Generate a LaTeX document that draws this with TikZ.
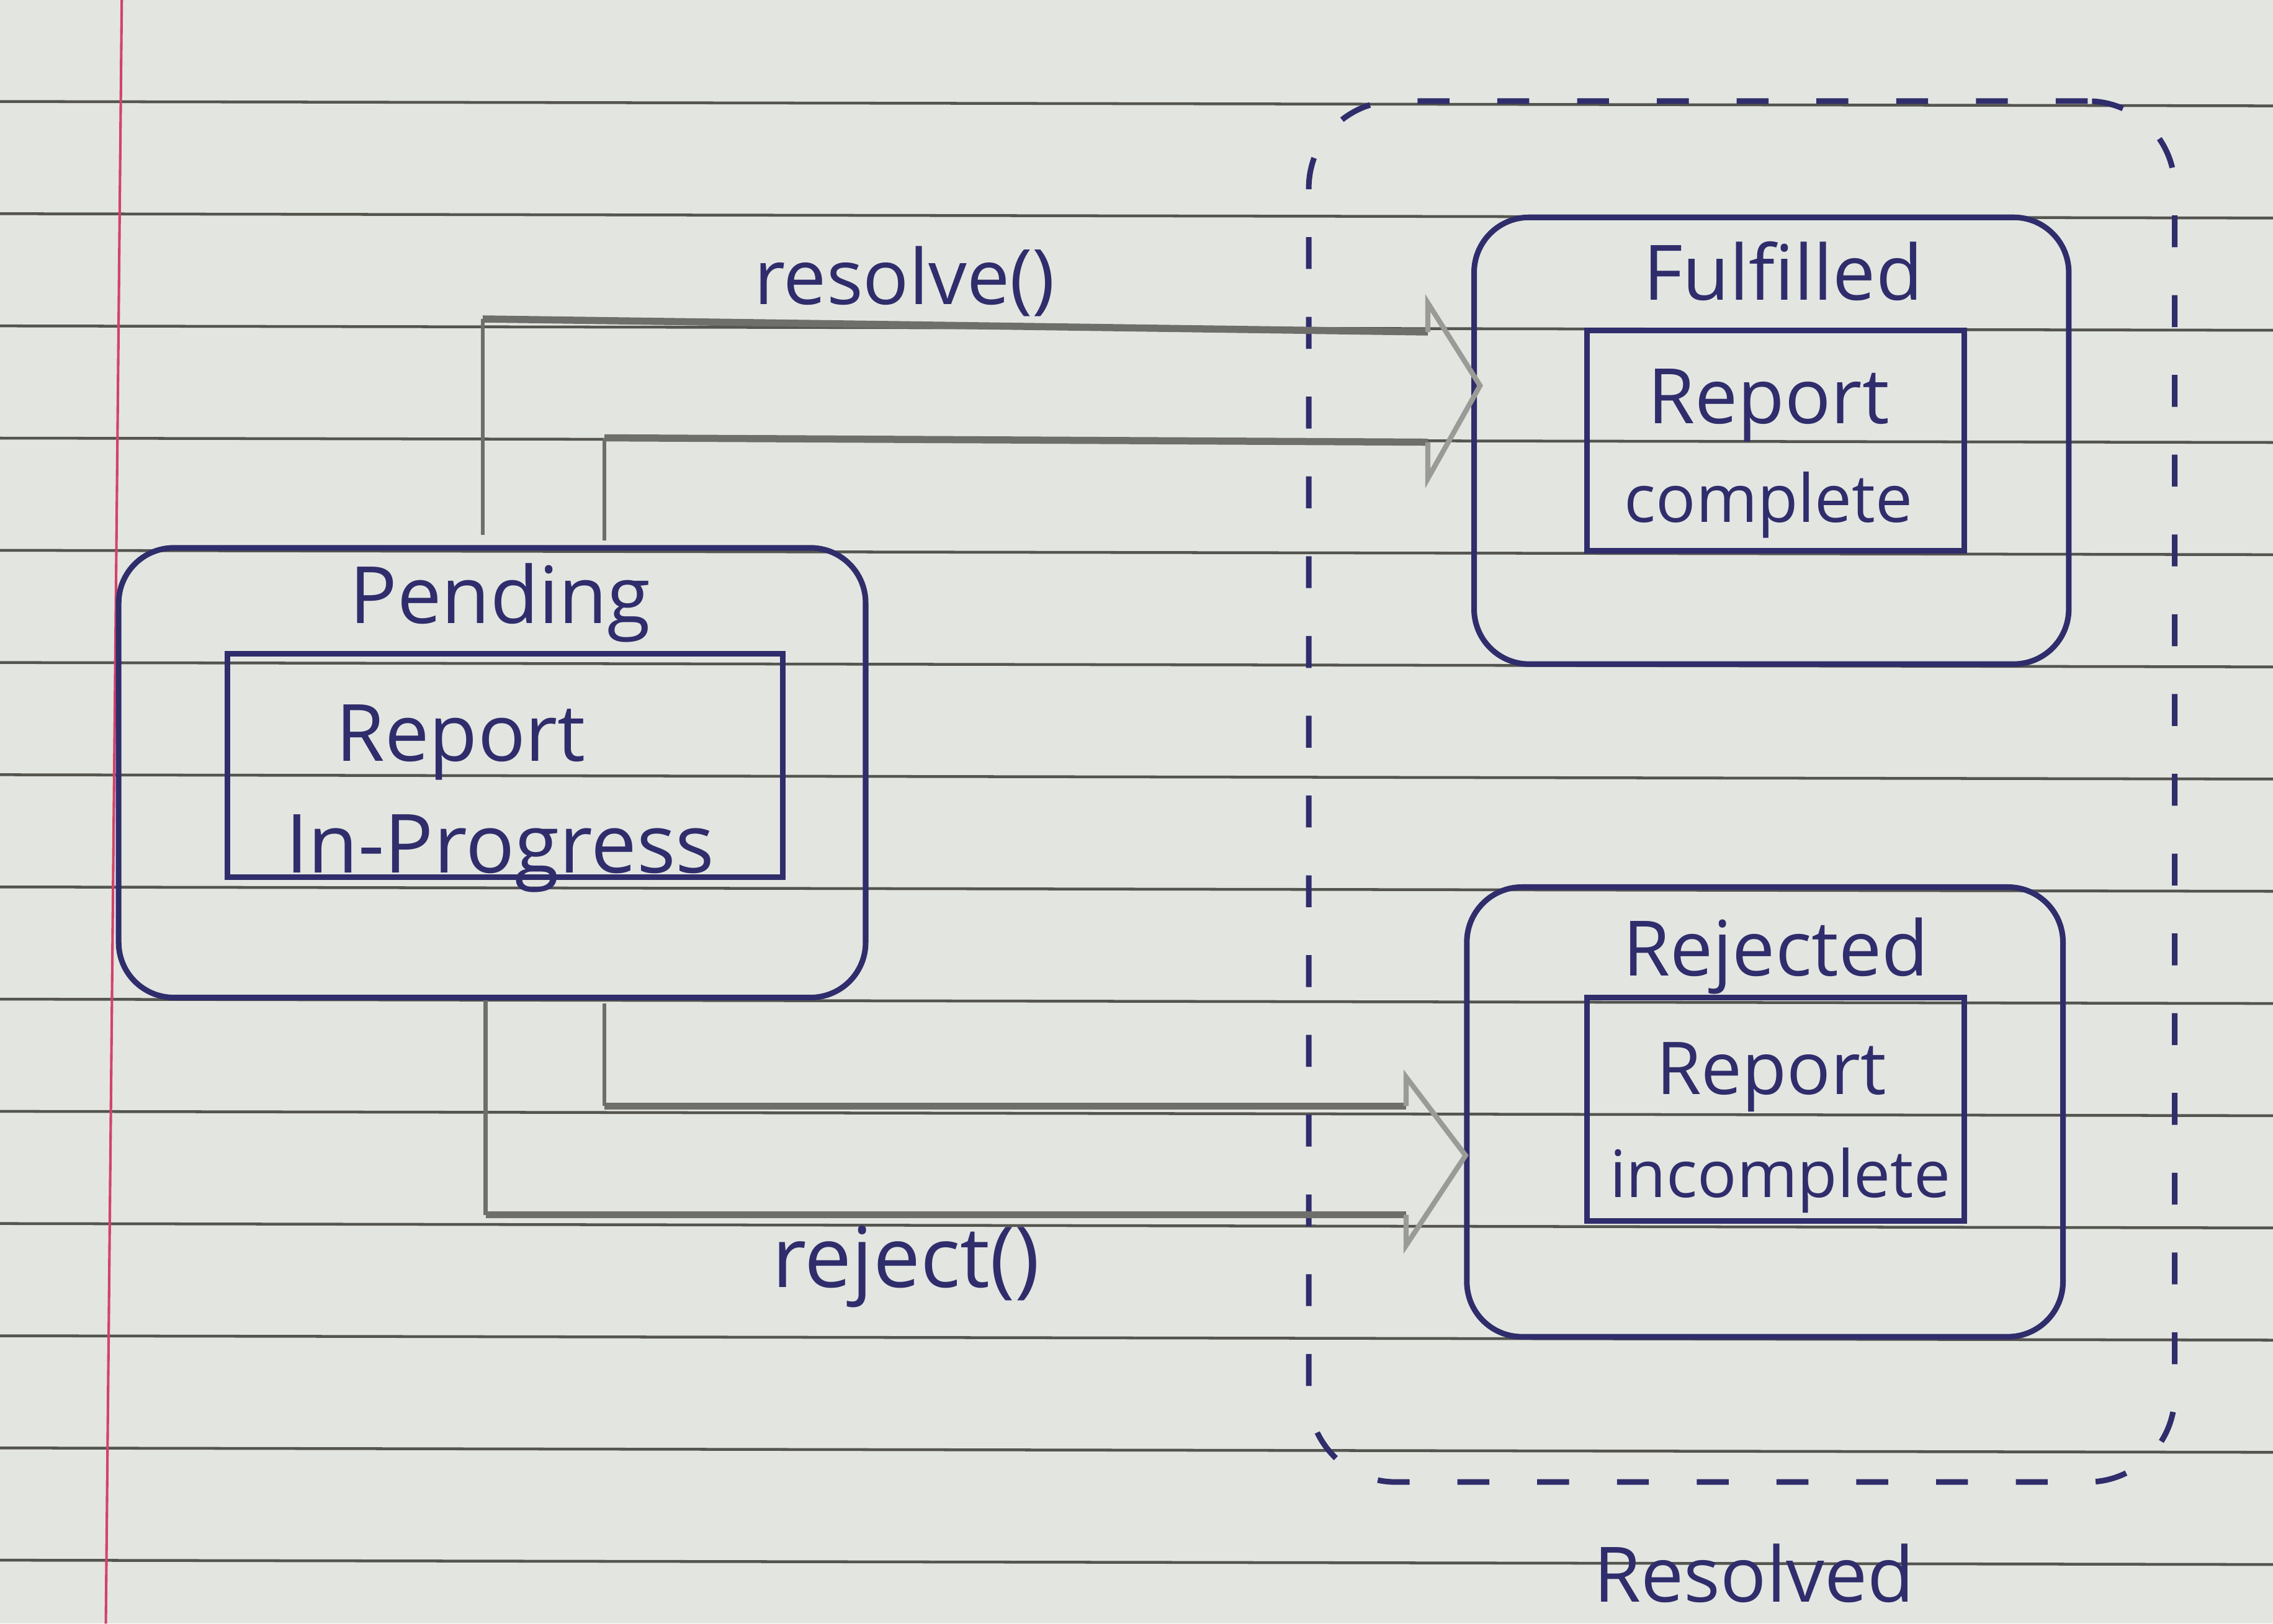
\documentclass[tikz,border=0pt]{standalone}
\usepackage{fontspec}
\setmainfont{Open Sans}
\definecolor{paper}{HTML}{E3E5E1}
\definecolor{rulec}{HTML}{55554F}
\definecolor{marginc}{HTML}{D2436A}
\definecolor{inkc}{HTML}{2F2D6B}
\definecolor{pencil}{HTML}{6E6E6A}
\definecolor{pencillight}{HTML}{9A9A97}
\begin{document}
\begin{tikzpicture}[x=0.01cm,y=-0.01cm,
  ink/.style={draw=inkc,line width=1.1pt},
  outerbox/.style={ink,rounded corners=0.38cm,inner sep=0pt},
  innerbox/.style={ink,inner sep=0pt},
  dashbox/.style={draw=inkc,line width=1.1pt,dash pattern=on 0.22cm off 0.33cm,rounded corners=0.6cm,inner sep=0pt},
  lbl/.style={text=inkc,font=\fontsize{15}{18}\selectfont,inner sep=0pt,anchor=base},
  fs/.style={font=\fontsize{#1}{18}\selectfont},
  pencilh/.style={draw=pencil,line width=1.4pt},
  pencilv/.style={draw=pencil,line width=0.8pt},
  pencilhead/.style={draw=pencillight,line width=1pt,line join=miter}
]
\fill[paper] (0,0) rectangle (1568,1120);
\useasboundingbox (0,0) rectangle (1568,1120);
\foreach \k in {0,...,13}
  \draw[rulec,line width=0.55pt] (0,{70+77.4*\k}) -- (1568,{73+77.4*\k});
\draw[marginc,line width=0.5pt] (84,0) -- (73,1120);

% dashed resolved region
\node[dashbox,minimum width=5.97cm,minimum height=9.52cm] (resolvedbox) at (1201.5,546) {};
\node[lbl] (tresolved) at (1210,1105) {Resolved};

% Pending
\node[outerbox,minimum width=5.15cm,minimum height=3.10cm] (pending) at (339.5,533) {};
\node[innerbox,minimum width=3.83cm,minimum height=1.54cm] (pendinginner) at (348.5,528) {};
\node[lbl,fs=15.5] (tpending) at (345,430) {Pending};
\node[lbl,fs=15.5] (tpreport) at (318,525) {Report};
\node[lbl,fs=16] (tpprog) at (345,602) {In-Progress};

% Fulfilled
\node[outerbox,minimum width=4.10cm,minimum height=3.08cm] (fulfilled) at (1222,304) {};
\node[innerbox,minimum width=2.60cm,minimum height=1.52cm] (fulfilledinner) at (1225,304) {};
\node[lbl] (tfulfilled) at (1230,207) {Fulfilled};
\node[lbl] (tfreport) at (1220,292) {Report};
\node[lbl,fs=13] (tfcomplete) at (1220,360) {complete};

% Rejected
\node[outerbox,minimum width=4.11cm,minimum height=3.10cm] (rejected) at (1217.5,767) {};
\node[innerbox,minimum width=2.60cm,minimum height=1.54cm] (rejectedinner) at (1225,765) {};
\node[lbl] (trejected) at (1225,673) {Rejected};
\node[lbl,fs=14.3] (trreport) at (1222,755) {Report};
\node[lbl,fs=12.8] (trincomplete) at (1228,826) {incomplete};

% resolve() arrow
\coordinate (rsA) at (333,369);
\coordinate (rsB) at (333,220);
\coordinate (rsC) at (985,229);
\coordinate (rsD) at (417,373);
\coordinate (rsE) at (417,302);
\coordinate (rsF) at (985,305);
\coordinate (rsT1) at (985,209);
\coordinate (rsTip) at (1021,266);
\coordinate (rsT2) at (985,330);
\draw[pencilv] (rsA) -- (rsB);
\draw[pencilh] (rsB) -- (rsC);
\draw[pencilv] (rsD) -- (rsE);
\draw[pencilh] (rsE) -- (rsF);
\draw[pencilhead] (rsC) -- (rsT1) -- (rsTip) -- (rsT2) -- (rsF);
\node[lbl] (tresolve) at (624,210) {resolve()};

% reject() arrow
\coordinate (rjA) at (335,690);
\coordinate (rjB) at (335,838);
\coordinate (rjC) at (970,838);
\coordinate (rjD) at (417,692);
\coordinate (rjE) at (417,763);
\coordinate (rjF) at (970,763);
\coordinate (rjT1) at (970,743);
\coordinate (rjTip) at (1011,797);
\coordinate (rjT2) at (970,859);
\draw[pencilv] (rjA) -- (rjB);
\draw[pencilh] (rjB) -- (rjC);
\draw[pencilv] (rjD) -- (rjE);
\draw[pencilh] (rjE) -- (rjF);
\draw[pencilhead] (rjF) -- (rjT1) -- (rjTip) -- (rjT2) -- (rjC);
\node[lbl,fs=16.5] (treject) at (625,888) {reject()};
\end{tikzpicture}
\end{document}
